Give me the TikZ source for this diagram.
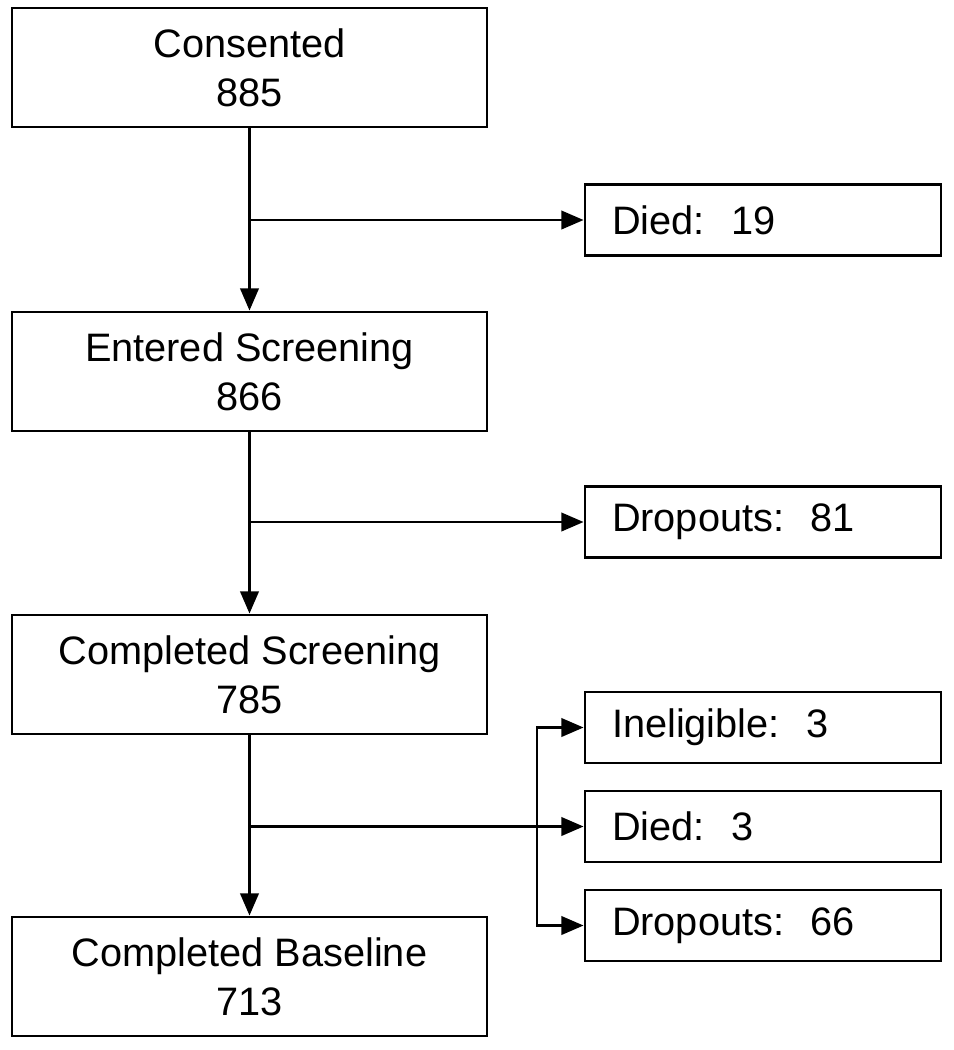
\documentclass[tikz,border=0pt]{standalone}
\usepackage{fontspec}
\setmainfont{Liberation Sans}
\usepackage{tikz}
\usetikzlibrary{positioning,calc,arrows.meta}
\tikzset{box/.style={draw,line width=0.8pt,minimum width=4.75cm,minimum height=1.19cm,
                     align=center,font=\fontsize{11.3}{14}\selectfont},
         side/.style={draw,line width=0.8pt,minimum height=0.71cm,text width=3.02cm,
                      inner xsep=0.27cm,align=left,font=\fontsize{11.3}{14}\selectfont},
         edge/.style={-{Triangle[length=6.3pt,width=5.2pt]},line width=0.8pt},
         line/.style={line width=0.8pt}
}

\begin{document}
\begin{tikzpicture}
    \useasboundingbox (0,0) rectangle (9.54,-10.5);
    \node[box] (C)  at (2.495,-0.675) {Consented\\885};
    \node[box] (E)  at (2.495,-3.715) {Entered Screening\\866};
    \node[box] (S)  at (2.495,-6.745) {Completed Screening\\785};
    \node[box] (B)  at (2.495,-9.765) {Completed Baseline\\713};

    \node[side] (D1) at (7.63,-2.2)   {Died:\ \ 19};
    \node[side] (O1) at (7.63,-5.22)  {Dropouts:\ \ 81};
    \node[side] (I)  at (7.63,-7.275) {Ineligible:\ \ 3};
    \node[side] (D2) at (7.63,-8.265) {Died:\ \ 3};
    \node[side] (O2) at (7.63,-9.255) {Dropouts:\ \ 66};

    \coordinate (split) at (5.37,-8.265);

    \draw[edge] (C) -- (E);
    \draw[edge] (E) -- (S);
    \draw[edge] (S) -- (B);
    \draw[edge] (C.south |- D1) -- (D1);
    \draw[edge] (E.south |- O1) -- (O1);
    \draw[edge] (S.south |- D2) -- (D2);
    \draw[edge] (split) |- (I);
    \draw[edge] (split) |- (O2);
\end{tikzpicture}
\end{document}
